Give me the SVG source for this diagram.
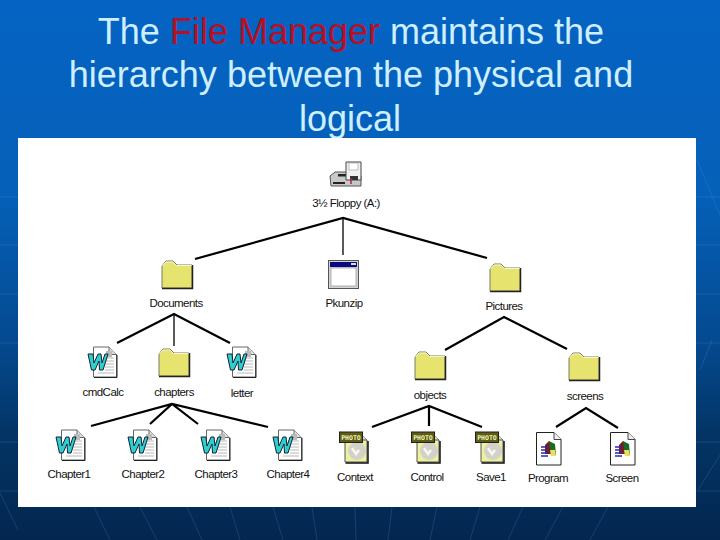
<svg xmlns="http://www.w3.org/2000/svg" width="720" height="540" viewBox="0 0 720 540">
<style>
.t{font-family:"Liberation Sans",Arial,sans-serif;font-size:36px;fill:#cdefff;text-anchor:middle}
.r{fill:#b80f24}
.l{font-family:"Liberation Sans",Arial,sans-serif;font-size:11.5px;letter-spacing:-.55px;fill:#111;text-anchor:middle}
.c{fill:none;stroke:#000;stroke-width:2.200;stroke-linecap:butt;stroke-linejoin:miter}
.bg{fill:none;stroke:#6aa0dc;stroke-opacity:.2;stroke-width:1}
.fan{fill:none;stroke:#5f9ad8;stroke-opacity:.22;stroke-width:1}
</style>
<defs>
<linearGradient id="g" x1="0" y1="0" x2="0" y2="1">
<stop offset="0" stop-color="#0563c3"/><stop offset=".36" stop-color="#0560b8"/><stop offset=".63" stop-color="#044a90"/><stop offset=".8" stop-color="#033566"/><stop offset="1" stop-color="#03264f"/>
</linearGradient>
<symbol id="folder" width="32" height="30" viewBox="0 0 32 30" overflow="visible">
<path d="M1 28V6L5 1H12L16 5H31V28Z" fill="#e6e36e" stroke="#7a7a60" stroke-width="1"/>
<path d="M1.500 6L5 2H12L15.500 5.500H31" fill="none" stroke="#f5f5d0" stroke-width="1"/>
<path d="M1 28.500H31.500V5" fill="none" stroke="#222" stroke-width="1.500"/>
</symbol>
<symbol id="word" width="31" height="32" viewBox="0 0 31 32" overflow="visible">
<path d="M6.500 1H22L29.500 8.500V31H6.500Z" fill="#fff" stroke="#666" stroke-width="1"/>
<path d="M7 31.500H30V9" fill="none" stroke="#222" stroke-width="1"/>
<path d="M22 1V8.500H29.500" fill="#ddd" stroke="#666"/>
<path d="M18 12H27M18 15H27M18 18H27M18 21H27M18 24H27M11 27H27" stroke="#b8b8b8" stroke-width="1"/>
<rect x="19" y="5" width="6" height="6" fill="#bbb"/>
<path d="M1 8H6L7 17L11 8H14L15 17L18 8H21L16 24H12.500L12 15L8 24H4.500Z" fill="#30cfcf" stroke="#123" stroke-width="1"/>
</symbol>
<symbol id="photo" width="32" height="33" viewBox="0 0 32 33" overflow="visible">
<path d="M6 3H22L28 9V31H6Z" fill="#eef0a0" stroke="#555" stroke-width="1"/>
<path d="M6.500 32H29V10" fill="none" stroke="#111" stroke-width="1.500"/>
<path d="M22 3V9H28" fill="#ddd" stroke="#555"/>
<ellipse cx="18" cy="20" rx="9" ry="9" fill="#d2d2ca"/>
<path d="M13 17L17 23L20 19" fill="none" stroke="#f6f6ea" stroke-width="2.500"/>
<rect x="0.500" y="1" width="23" height="10.500" fill="#5c5c12" stroke="#222" stroke-width="1"/>
<text x="12" y="9" font-family="'DejaVu Sans Mono','Liberation Mono',monospace" font-size="6.500" font-weight="bold" fill="#f4f4c0" text-anchor="middle">PHOTO</text>
</symbol>
<symbol id="app" width="26" height="34" viewBox="0 0 26 34" overflow="visible">
<path d="M.5 .5H18L25 7.500V33H.5Z" fill="#fff" stroke="#222" stroke-width="1"/>
<path d="M18 .5V7.500H25" fill="#eee" stroke="#444"/>
<path d="M9 13L13 9L16 13V22H9Z" fill="#7a1c1c"/>
<path d="M13 9L19 12L20 23H15Z" fill="#1a6a2a"/>
<path d="M14 18L19 18L20 24H15Z" fill="#e8e060"/>
<path d="M5 15H12M5 18H12M5 21H12M5 24H12" stroke="#2a2aa8" stroke-width="1.500"/>
</symbol>
</defs>
<rect width="720" height="540" fill="url(#g)"/>
<g id="backdrop">
<path class="bg" d="M0 197H720M0 245H720M0 294H720M0 343H720M0 442H720M0 491H720"/>
<path class="fan" d="M0 493L18 530M94 507L110 540M140 507L157 540M187 507L202 540M230 507L240 540M273 507L283 540M312 507L317 540M355 507L356 540M392 507L388 540M437 507L430 540M480 507L470 540M523 507L508 540M563 507L545 540M608 507L590 540M698 490L720 455M697 160L720 215M712 340L700 370"/>
</g>
<g id="title" class="t">
<text x="351" y="44">The <tspan class="r">File Manager</tspan> maintains the</text>
<text x="351" y="87">hierarchy between the physical and</text>
<text x="350" y="131">logical</text>
</g>
<rect id="panel" x="18" y="138" width="678" height="369" fill="#fff"/>
<g id="connectors">
<path class="c" d="M195 259L343 218L487 258"/><path class="c" style="stroke-width:1.300" d="M343 218V255"/>
<path class="c" d="M117 343L174 314L230 343"/><path class="c" style="stroke-width:1.300" d="M174 314V346"/>
<path class="c" d="M91 426L172 404L268 427M150 424L172 404L198 424"/>
<path class="c" d="M445 350L504 317L567 349"/>
<path class="c" d="M372 427L429 406L482 427M429 406V426"/>
<path class="c" d="M556 427L586 408L618 428"/>
</g>
<g id="floppy">
<path d="M330 176L335 172H358L361 176V186H331Z" fill="#c8c8c8" stroke="#555"/>
<rect x="338" y="174" width="12" height="2.500" fill="#222"/>
<rect x="333" y="182" width="12" height="2" fill="#222"/>
<path d="M346 162H361V180H346Z" fill="#f0f0f0" stroke="#444"/>
<rect x="349" y="163" width="9" height="7" fill="#fff" stroke="#999" stroke-width=".6"/>
<path d="M350 176H358V180H350Z" fill="#333"/><path d="M351 178V184" stroke="#a03040" stroke-width="1.500"/>
<text class="l" x="346" y="207">3½ Floppy (A:)</text>
</g>
<g id="documents"><use href="#folder" x="161" y="260"/><text class="l" x="176" y="307">Documents</text></g>
<g id="pkunzip">
<rect x="328.500" y="260.500" width="30" height="28" fill="#d4d4d4" stroke="#555"/>
<rect x="330" y="262" width="27" height="5" fill="#0a0a80"/>
<rect x="331" y="268" width="25" height="18" fill="#fff" stroke="#888" stroke-width=".6"/>
<rect x="351" y="263" width="5" height="2" fill="#ddd"/>
<text class="l" x="344" y="307">Pkunzip</text>
</g>
<g id="pictures"><use href="#folder" x="489" y="263"/><text class="l" x="504" y="310">Pictures</text></g>
<g id="cmdcalc"><use href="#word" x="87" y="346"/><text class="l" x="103" y="396">cmdCalc</text></g>
<g id="chapters"><use href="#folder" x="158" y="348"/><text class="l" x="174" y="396">chapters</text></g>
<g id="letter"><use href="#word" x="226" y="346"/><text class="l" x="242" y="397">letter</text></g>
<g id="objects"><use href="#folder" x="414" y="351"/><text class="l" x="430" y="399">objects</text></g>
<g id="screens"><use href="#folder" x="568" y="352"/><text class="l" x="585" y="400">screens</text></g>
<g id="chapter1"><use href="#word" x="55" y="429"/><text class="l" x="69" y="478">Chapter1</text></g>
<g id="chapter2"><use href="#word" x="127" y="429"/><text class="l" x="143" y="478">Chapter2</text></g>
<g id="chapter3"><use href="#word" x="200" y="429"/><text class="l" x="216" y="478">Chapter3</text></g>
<g id="chapter4"><use href="#word" x="272" y="429"/><text class="l" x="288" y="478">Chapter4</text></g>
<g id="context"><use href="#photo" x="339" y="431"/><text class="l" x="355" y="481">Context</text></g>
<g id="control"><use href="#photo" x="411" y="431"/><text class="l" x="427" y="481">Control</text></g>
<g id="save1"><use href="#photo" x="475" y="431"/><text class="l" x="491" y="481">Save1</text></g>
<g id="program"><use href="#app" x="536" y="432"/><text class="l" x="548" y="482">Program</text></g>
<g id="screen"><use href="#app" x="610" y="432"/><text class="l" x="622" y="482">Screen</text></g>
</svg>
